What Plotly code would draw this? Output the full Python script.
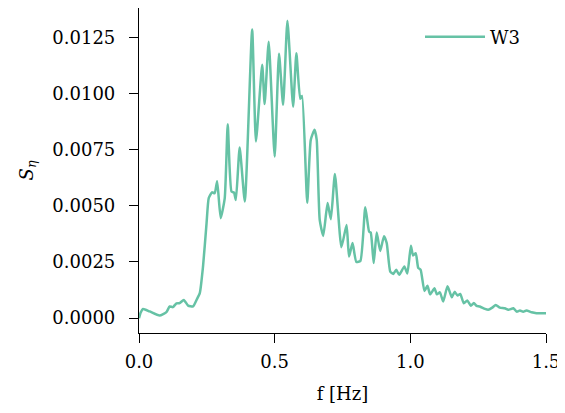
import plotly.graph_objects as go

# Frequency [Hz]
freq = [0.000, 0.006, 0.015, 0.039, 0.076, 0.101, 0.113, 0.125, 0.138, 0.150,
        0.165, 0.181, 0.199, 0.212, 0.224, 0.236, 0.249, 0.257, 0.269, 0.279,
        0.288, 0.301, 0.316, 0.327, 0.341, 0.350, 0.357, 0.371, 0.390, 0.417,
        0.431, 0.454, 0.463, 0.478, 0.500, 0.516, 0.531, 0.547, 0.568, 0.580,
        0.594, 0.601, 0.620, 0.633, 0.647, 0.655, 0.666, 0.679, 0.695, 0.707,
        0.722, 0.746, 0.765, 0.774, 0.787, 0.801, 0.816, 0.834, 0.848, 0.854,
        0.865, 0.876, 0.889, 0.903, 0.913, 0.926, 0.937, 0.948, 0.959, 0.978,
        0.989, 1.002, 1.010, 1.020, 1.029, 1.038, 1.052, 1.063, 1.073, 1.089,
        1.098, 1.109, 1.121, 1.137, 1.153, 1.163, 1.174, 1.184, 1.197, 1.210,
        1.223, 1.234, 1.244, 1.256, 1.275, 1.287, 1.302, 1.315, 1.330, 1.348,
        1.361, 1.380, 1.392, 1.404, 1.416, 1.428, 1.447, 1.465, 1.484, 1.500]

# Spectral density S_eta
s_eta = [0.00000, 0.00024, 0.00041, 0.00030, 0.00012, 0.00027, 0.00052, 0.00049, 0.00066, 0.00067,
         0.00081, 0.00056, 0.00052, 0.00081, 0.00111, 0.00230, 0.00423, 0.00534, 0.00560, 0.00556,
         0.00609, 0.00445, 0.00534, 0.00863, 0.00563, 0.00559, 0.00526, 0.00759, 0.00519, 0.01284,
         0.00786, 0.01127, 0.00953, 0.01230, 0.00719, 0.01177, 0.00949, 0.01323, 0.00941, 0.01179,
         0.00976, 0.00989, 0.00513, 0.00793, 0.00838, 0.00793, 0.00437, 0.00366, 0.00512, 0.00440,
         0.00641, 0.00316, 0.00415, 0.00274, 0.00334, 0.00250, 0.00255, 0.00494, 0.00385, 0.00381,
         0.00245, 0.00381, 0.00299, 0.00365, 0.00334, 0.00207, 0.00197, 0.00215, 0.00193, 0.00230,
         0.00199, 0.00322, 0.00279, 0.00289, 0.00224, 0.00215, 0.00121, 0.00144, 0.00106, 0.00133,
         0.00106, 0.00115, 0.00074, 0.00142, 0.00093, 0.00117, 0.00101, 0.00108, 0.00066, 0.00079,
         0.00055, 0.00067, 0.00055, 0.00052, 0.00041, 0.00037, 0.00047, 0.00059, 0.00047, 0.00044,
         0.00037, 0.00044, 0.00029, 0.00034, 0.00028, 0.00034, 0.00026, 0.00022, 0.00022, 0.00022]

series_name = "W3"
x_ticks = [0.0, 0.5, 1.0, 1.5]
y_ticks = [0.0, 0.0025, 0.005, 0.0075, 0.01, 0.0125]

FONT = "DejaVu Serif"

fig = go.Figure()
fig.add_trace(go.Scatter(
    x=freq, y=s_eta, mode="lines", name=series_name,
    line=dict(color="#66c2a5", width=2.5, shape="spline", smoothing=0.5),
))

# page has an 8px body margin; plot area targeted at page x 139..546, y 8..333
fig.update_layout(
    width=565, height=413,
    margin=dict(l=131, r=27, t=0, b=88),
    paper_bgcolor="white", plot_bgcolor="white",
    font=dict(family=FONT, size=18, color="black"),
    showlegend=True,
    legend=dict(x=(412 - 131) / 407, y=1 - (29 - 0) / 325, xanchor="left", yanchor="middle",
                bgcolor="rgba(0,0,0,0)", font=dict(family=FONT, size=18, color="black"),
                itemwidth=60),
)

fig.update_xaxes(
    range=[0, 1.5], tickvals=x_ticks, tickformat=".1f",
    showgrid=False, zeroline=False, showline=True, linecolor="black", linewidth=1.2,
    ticks="outside", ticklen=9, tickwidth=1.2, tickcolor="black", ticklabelstandoff=3,
    title=dict(text="f [Hz]", standoff=16, font=dict(family=FONT, size=18)),
)
fig.update_yaxes(
    range=[-0.00066, 0.0138], tickvals=y_ticks, tickformat=".4f",
    showgrid=False, zeroline=False, showline=True, linecolor="black", linewidth=1.2,
    ticks="outside", ticklen=9, tickwidth=1.2, tickcolor="black", ticklabelstandoff=10,
    title=dict(text="<i>S</i><sub><i>η</i></sub>", standoff=14, font=dict(family=FONT, size=18)),
)

fig.write_html("out.html")
